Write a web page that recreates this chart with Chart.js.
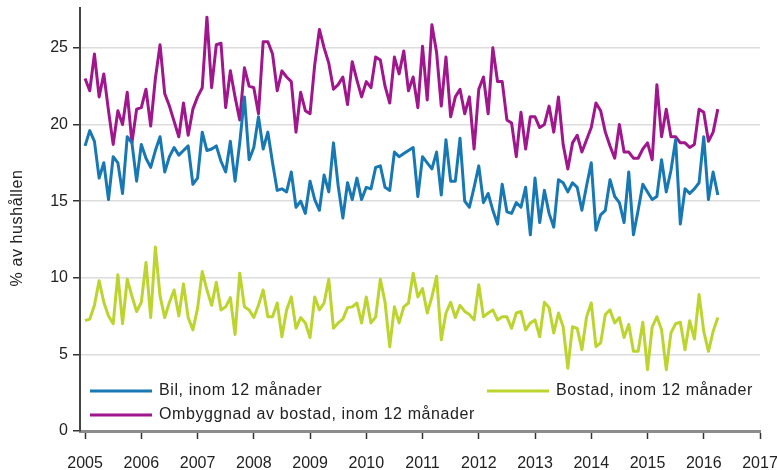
<!DOCTYPE html>
<html>
<head>
<meta charset="utf-8">
<script src="https://cdn.jsdelivr.net/npm/chart.js@4.4.1/dist/chart.umd.min.js"></script>
<style>
  html, body { margin: 0; padding: 0; background: #fff; }
  #wrap { width: 777px; height: 470px; }
</style>
</head>
<body>
<div id="wrap"><canvas id="chart"></canvas></div>
<script>
// Monthly values, Jan 2005 - Apr 2016 (% av hushållen)
const startYear = 2005;

const bil = [
  18.6, 19.6, 18.9, 16.5, 17.5, 15.1, 17.9, 17.5, 15.5, 19.2, 18.8, 16.3,
  18.7, 17.8, 17.2, 18.3, 19.2, 16.9, 17.9, 18.5, 18.0, 18.3, 18.6, 16.1,
  16.5, 19.5, 18.3, 18.4, 18.6, 17.6, 16.9, 18.9, 16.3, 18.8, 21.8, 17.7,
  18.5, 20.5, 18.4, 19.5, 17.5, 15.7, 15.8, 15.6, 16.9, 14.6, 15.0, 14.2,
  16.3, 15.1, 14.4, 16.7, 15.6, 18.8, 16.0, 13.9, 16.2, 15.1, 16.5, 15.1,
  15.9, 15.8, 17.2, 17.3, 15.9, 15.7, 18.2, 17.9, 18.1, 18.3, 18.5, 15.3,
  17.9, 17.5, 17.1, 18.2, 15.4, 19.0, 16.3, 16.3, 19.1, 15.0, 14.6, 15.9,
  17.3, 14.9, 15.5, 14.4, 13.5, 16.1, 14.3, 14.2, 14.9, 14.6, 15.9, 12.8,
  16.5, 13.6, 15.7, 14.2, 13.3, 16.4, 16.2, 15.6, 16.2, 15.9, 14.4, 16.0,
  17.5, 13.1, 14.1, 14.4, 16.4, 15.3, 14.9, 13.6, 16.9, 12.8, 14.4, 16.1,
  15.6, 15.1, 15.3, 17.7, 15.6, 17.0, 19.0, 13.5, 15.8, 15.5, 15.8, 16.2,
  19.2, 15.1, 16.9, 15.4
];

const bostad = [
  7.2, 7.3, 8.2, 9.8, 8.4, 7.5, 7.0, 10.2, 7.0, 9.9, 8.8, 7.8,
  8.4, 11.0, 7.4, 12.0, 8.8, 7.4, 8.4, 9.2, 7.5, 9.6, 7.4, 6.6,
  8.0, 10.4, 9.2, 8.2, 9.7, 7.9, 8.1, 8.7, 6.3, 10.3, 8.1, 7.9,
  7.4, 8.2, 9.2, 7.45, 7.45, 8.35, 6.15, 7.9, 8.75, 6.7, 7.4, 7.05,
  6.1, 8.75, 7.9, 8.35, 9.9, 6.7, 7.05, 7.3, 8.05, 8.1, 8.35, 7.05,
  8.75, 7.05, 7.45, 9.9, 8.4, 5.5, 8.1, 7.05, 8.1, 8.35, 10.3, 8.75,
  9.3, 7.7, 8.75, 10.1, 5.95, 7.7, 8.4, 7.4, 8.2, 7.8, 7.6, 7.25,
  9.55, 7.45, 7.7, 7.9, 7.25, 7.45, 7.45, 6.7, 7.7, 7.8, 6.6, 7.05,
  7.25, 6.15, 8.4, 8.05, 6.4, 7.7, 6.8, 4.1, 6.8, 6.7, 5.3, 7.45,
  8.35, 5.5, 5.75, 7.6, 7.9, 7.05, 7.4, 6.1, 6.95, 5.2, 5.2, 7.1,
  4.0, 6.8, 7.45, 6.6, 4.0, 6.4, 7.0, 7.1, 5.3, 7.2, 6.0, 8.9,
  6.5, 5.2, 6.5, 7.4
];

const ombyggnad = [
  23.0, 22.2, 24.6, 21.8, 23.3, 20.9, 18.7, 20.9, 20.0, 22.1, 18.8, 21.0,
  21.1, 22.3, 19.9, 23.0, 25.2, 22.0, 21.2, 20.2, 19.2, 21.4, 19.3, 21.0,
  21.8, 22.4, 27.0, 22.4, 25.2, 25.3, 21.1, 23.5, 21.8, 20.3, 23.7, 22.5,
  22.4, 20.7, 25.4, 25.4, 24.6, 22.2, 23.5, 23.1, 22.8, 19.5, 22.1, 20.9,
  20.7, 23.9, 26.2, 25.0, 24.0, 22.3, 22.6, 23.1, 21.3, 24.1, 22.9, 21.8,
  22.8, 22.4, 24.4, 24.2, 22.5, 21.4, 24.4, 23.3, 24.8, 22.2, 23.1, 21.1,
  25.1, 21.6, 26.5, 24.7, 21.2, 24.4, 20.5, 21.8, 22.3, 20.7, 21.8, 18.4,
  22.3, 23.1, 20.7, 25.0, 22.8, 22.8, 20.3, 20.1, 17.9, 20.8, 18.4, 20.5,
  20.5, 19.8, 20.0, 21.2, 19.5, 21.8, 18.7, 17.1, 18.8, 19.3, 18.2, 19.0,
  19.8, 21.4, 20.9, 19.5, 18.6, 17.8, 20.0, 18.2, 18.2, 17.8, 17.8, 18.4,
  18.8, 17.7, 22.6, 19.2, 21.0, 19.2, 19.2, 18.8, 18.8, 18.5, 18.7, 21.0,
  20.8, 18.9, 19.5, 21.0
];

const seriesLabels = [
  "Bil, inom 12 månader",
  "Bostad, inom 12 månader",
  "Ombyggnad av bostad, inom 12 månader"
];
const seriesColors = ["#1878b4", "#bdd42e", "#a0168c"];
const yearTicks = [2005, 2006, 2007, 2008, 2009, 2010, 2011, 2012, 2013, 2014, 2015, 2016, 2017];
const valueTicks = [0, 5, 10, 15, 20, 25];
const yTitle = "% av hushållen";

const FONT = '"Liberation Sans", Arial, sans-serif';

function toPoints(values) {
  return values.map((v, i) => ({ x: startYear + i / 12, y: v }));
}

function lineDataset(label, values, color) {
  return {
    label,
    data: toPoints(values),
    borderColor: color,
    backgroundColor: color,
    borderWidth: 3,
    pointRadius: 0,
    tension: 0,
    borderJoinStyle: "round"
  };
}

// legend drawn inside the plot, two columns like the original
const legendSlots = [
  { series: 0, x: 90, y: 391 },
  { series: 1, x: 487, y: 391 },
  { series: 2, x: 90, y: 415 }
];

const insideLegend = {
  id: "insideLegend",
  afterDraw(chart) {
    const ctx = chart.ctx;
    ctx.save();
    ctx.font = "16px " + FONT;
    ctx.textBaseline = "middle";
    ctx.textAlign = "left";
    if ("letterSpacing" in ctx) ctx.letterSpacing = "0.6px";
    legendSlots.forEach((slot) => {
      ctx.strokeStyle = seriesColors[slot.series];
      ctx.lineWidth = 3;
      ctx.beginPath();
      ctx.moveTo(slot.x, slot.y);
      ctx.lineTo(slot.x + 62, slot.y);
      ctx.stroke();
      ctx.fillStyle = "#222";
      ctx.fillText(seriesLabels[slot.series], slot.x + 69, slot.y);
    });
    // y axis title
    ctx.translate(18, 228);
    ctx.rotate(-Math.PI / 2);
    ctx.textAlign = "center";
    ctx.fillText(yTitle, 0, 0);
    ctx.restore();
  }
};

new Chart(document.getElementById("chart"), {
  type: "line",
  data: {
    datasets: [
      lineDataset(seriesLabels[0], bil, seriesColors[0]),
      lineDataset(seriesLabels[1], bostad, seriesColors[1]),
      lineDataset(seriesLabels[2], ombyggnad, seriesColors[2])
    ]
  },
  options: {
    responsive: true,
    maintainAspectRatio: false,
    animation: false,
    layout: { padding: { left: 0, right: 17, top: 8, bottom: 0 } },
    plugins: {
      legend: { display: false },
      tooltip: { enabled: false }
    },
    scales: {
      x: {
        type: "linear",
        min: 2004.91,
        max: 2017,
        afterBuildTicks: (s) => { s.ticks = yearTicks.map((v) => ({ value: v })); },
        afterFit: (s) => { s.height = 39; s.paddingLeft = 0; s.paddingRight = 0; },
        ticks: {
          color: "#222",
          font: { family: FONT, size: 16 },
          padding: 15,
          maxRotation: 0,
          autoSkip: false,
          callback: (v) => String(v)
        },
        grid: { display: true, drawOnChartArea: false, drawTicks: true, tickLength: 8, tickColor: "#333", tickWidth: 1.5 },
        border: { color: "#8c8c8c", width: 3 }
      },
      y: {
        min: 0,
        max: 27.6,
        afterBuildTicks: (s) => { s.ticks = valueTicks.map((v) => ({ value: v })); },
        afterFit: (s) => { s.width = 80; s.paddingTop = 0; s.paddingBottom = 0; },
        ticks: {
          color: "#222",
          font: { family: FONT, size: 16 },
          padding: 5,
          callback: (v) => String(v)
        },
        grid: {
          color: (c) => (c.tick && c.tick.value === 0 ? "rgba(0,0,0,0)" : "#dcdcdc"),
          lineWidth: 1.5,
          tickLength: 7,
          tickColor: "#333",
          tickWidth: 1.5
        },
        border: { color: "#444", width: 2 }
      }
    }
  },
  plugins: [insideLegend]
});
</script>
</body>
</html>
